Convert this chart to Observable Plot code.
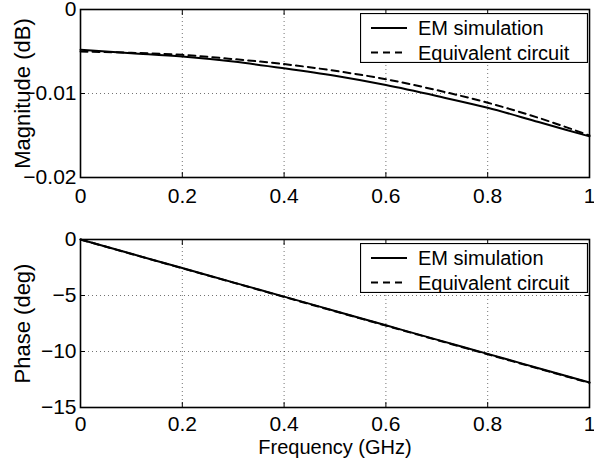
<!DOCTYPE html>
<html>
<head>
<meta charset="utf-8">
<script src="https://cdn.jsdelivr.net/npm/d3@7"></script>
<script src="https://cdn.jsdelivr.net/npm/@observablehq/plot@0.6"></script>
<style>
  html, body { margin: 0; padding: 0; background: #fff; }
  #wrap { position: relative; width: 594px; height: 461px; font-family: "Liberation Sans", Arial, sans-serif; }
  .panel { position: absolute; left: 0; }
  .legend { position: absolute; }
</style>
</head>
<body>
<div id="wrap"></div>
<script>
// ---- data ----
const freq = [0, 0.1, 0.2, 0.3, 0.4, 0.5, 0.6, 0.7, 0.8, 0.9, 1.0];
const magEM = [-0.0048, -0.0052, -0.0056, -0.0062, -0.0070, -0.0079, -0.0090, -0.0103, -0.0117, -0.0134, -0.0151];
const magEq = [-0.0050, -0.00515, -0.0054, -0.0059, -0.0065, -0.0073, -0.0083, -0.0096, -0.0111, -0.0129, -0.0150];
const phaseEM = [0, -1.28, -2.55, -3.83, -5.10, -6.38, -7.66, -8.94, -10.21, -11.49, -12.77];
const phaseEq = [0, -1.29, -2.57, -3.85, -5.13, -6.41, -7.69, -8.97, -10.25, -11.53, -12.80];
const xTicks = [0, 0.2, 0.4, 0.6, 0.8, 1];
const xTickLabels = ["0", "0.2", "0.4", "0.6", "0.8", "1"];
const magTicks = [-0.02, -0.01, 0];
const magTickLabels = ["\u22120.02", "\u22120.01", "0"];
const phaseTicks = [-15, -10, -5, 0];
const phaseTickLabels = ["\u221215", "\u221210", "\u22125", "0"];
const seriesNames = ["EM simulation", "Equivalent circuit"];
const magLabel = "Magnitude (dB)";
const phaseLabel = "Phase (deg)";
const freqLabel = "Frequency (GHz)";

const FONT = "Liberation Sans, Arial, sans-serif";

function rows(ys) { return freq.map((f, i) => ({f, v: ys[i]})); }

function panel({em, eq, domain, ticks, tickLabels, ylabel, xlabel, height, xPad}) {
  const xfmt = d => xTickLabels[xTicks.indexOf(d)];
  const yfmt = d => tickLabels[ticks.indexOf(d)];
  const inner = ticks.slice(1, -1);
  const marks = [
    Plot.gridX([0.2, 0.4, 0.6, 0.8], {stroke: "#000", strokeOpacity: 0.55, strokeDasharray: "1,3", strokeWidth: 1}),
    Plot.gridY(inner, {stroke: "#000", strokeOpacity: 0.55, strokeDasharray: "1,3", strokeWidth: 1}),
    // inward ticks
    Plot.axisX(xTicks, {anchor: "bottom", tickSize: -5, tickFormat: () => "", label: null, strokeWidth: 1}),
    Plot.axisX(xTicks, {anchor: "top", tickSize: -5, tickFormat: () => "", label: null, strokeWidth: 1}),
    Plot.axisY(ticks, {anchor: "left", tickSize: -5, tickFormat: () => "", label: null, strokeWidth: 1}),
    Plot.axisY(ticks, {anchor: "right", tickSize: -5, tickFormat: () => "", label: null, strokeWidth: 1}),
    // tick labels
    Plot.axisX(xTicks, {anchor: "bottom", tickSize: 0, tickPadding: xPad, tickFormat: xfmt, label: null, fontSize: 21, fill: "#000"}),
    Plot.axisY(ticks, {anchor: "left", tickSize: 0, tickPadding: 4, tickFormat: yfmt, label: null, fontSize: 21, fill: "#000"}),
    Plot.lineY(rows(eq), {x: "f", y: "v", stroke: "#000", strokeWidth: 2, strokeDasharray: "7,5", curve: "monotone-x"}),
    Plot.lineY(rows(em), {x: "f", y: "v", stroke: "#000", strokeWidth: 2, curve: "monotone-x"}),
    Plot.frame({stroke: "#000", strokeWidth: 1.6}),
    Plot.text([ylabel], {frameAnchor: "left", rotate: -90, dx: -58, fontSize: 22, fill: "#000", lineAnchor: "middle", textAnchor: "middle"})
  ];
  if (xlabel) {
    marks.push(Plot.text([xlabel], {frameAnchor: "bottom", dy: 40, fontSize: 20, fill: "#000", lineAnchor: "middle"}));
  }
  return Plot.plot({
    width: 594,
    height,
    marginTop: 9,
    marginBottom: height - 177,
    marginLeft: 80,
    marginRight: 5,
    style: {fontFamily: FONT, background: "#fff", overflow: "visible"},
    x: {domain: [0, 1], axis: null},
    y: {domain, axis: null},
    marks
  });
}

function legend(top) {
  const ns = "http://www.w3.org/2000/svg";
  const w = 228, h = 50;
  const svg = document.createElementNS(ns, "svg");
  svg.setAttribute("width", w);
  svg.setAttribute("height", h);
  svg.setAttribute("class", "legend");
  svg.style.left = "360px";
  svg.style.top = top + "px";
  const rect = document.createElementNS(ns, "rect");
  rect.setAttribute("x", 0.5); rect.setAttribute("y", 0.5);
  rect.setAttribute("width", w - 1); rect.setAttribute("height", h - 1);
  rect.setAttribute("fill", "#fff"); rect.setAttribute("stroke", "#000"); rect.setAttribute("stroke-width", 1.2);
  svg.appendChild(rect);
  seriesNames.forEach((name, i) => {
    const cy = 15 + i * 24.5;
    const ln = document.createElementNS(ns, "line");
    ln.setAttribute("x1", 11); ln.setAttribute("x2", 47);
    ln.setAttribute("y1", cy); ln.setAttribute("y2", cy);
    ln.setAttribute("stroke", "#000"); ln.setAttribute("stroke-width", 2);
    if (i === 1) ln.setAttribute("stroke-dasharray", "7,5");
    svg.appendChild(ln);
    const t = document.createElementNS(ns, "text");
    t.setAttribute("x", 58); t.setAttribute("y", cy + 7);
    t.setAttribute("font-size", 20);
    t.setAttribute("font-family", FONT);
    t.textContent = name;
    svg.appendChild(t);
  });
  return svg;
}

const wrap = document.getElementById("wrap");
const top1 = panel({em: magEM, eq: magEq, domain: [-0.02, 0], ticks: magTicks, tickLabels: magTickLabels, ylabel: magLabel, height: 230, xPad: 11});
top1.classList.add("panel"); top1.style.top = "0px";
wrap.appendChild(top1);
const bot = panel({em: phaseEM, eq: phaseEq, domain: [-15, 0], ticks: phaseTicks, tickLabels: phaseTickLabels, ylabel: phaseLabel, xlabel: freqLabel, height: 231, xPad: 9});
bot.classList.add("panel"); bot.style.top = "230px";
wrap.appendChild(bot);
wrap.appendChild(legend(13));
wrap.appendChild(legend(243));
</script>
</body>
</html>
